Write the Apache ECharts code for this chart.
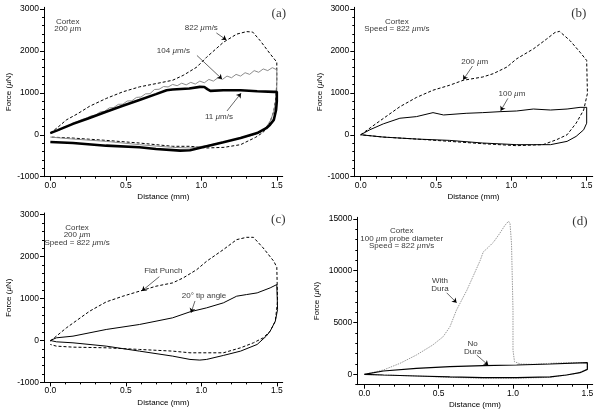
<!DOCTYPE html>
<html><head><meta charset="utf-8">
<script src="https://cdn.jsdelivr.net/npm/echarts@6/dist/echarts.min.js"></script>
<style>html,body{margin:0;padding:0;background:#fff}#c{width:600px;height:412px}</style>
</head><body><div id="c"></div>
<script>
// ---- tick values ----
const xMajor = [0, 0.5, 1.0, 1.5];
const xMinor = [0.1,0.2,0.3,0.4,0.6,0.7,0.8,0.9,1.1,1.2,1.3,1.4];
const yMajorABC = [-1000, 0, 1000, 2000, 3000];
const yMinorABC = [-800,-600,-400,-200,200,400,600,800,1200,1400,1600,1800,2200,2400,2600,2800];
const yMajorD = [0, 5000, 10000, 15000];
const yMinorD = [-1000,1000,2000,3000,4000,6000,7000,8000,9000,11000,12000,13000,14000];

// ---- panel (a): Cortex 200 um, speeds ----
const a822 = [[0,40],[0.05,180],[0.106,354],[0.18,500],[0.26,680],[0.37,866],[0.48,1024],[0.59,1142],[0.70,1220],[0.81,1300],[0.88,1417],[0.97,1614],[1.035,1850],[1.146,2205],[1.234,2400],[1.30,2460],[1.34,2450],[1.39,2244],[1.456,1929],[1.5,1732],[1.5,1300],[1.495,905],[1.48,560],[1.45,250],[1.41,60],[1.36,-60],[1.26,-236],[1.15,-300],[1.035,-315],[0.925,-275],[0.81,-275],[0.59,-197],[0.37,-134],[0.15,-79],[0,-55]];
const a104 = [[0,40],[0.03,95],[0.06,110],[0.09,185],[0.12,200],[0.15,285],[0.18,320],[0.21,365],[0.24,400],[0.27,450],[0.30,470],[0.33,545],[0.36,560],[0.39,640],[0.42,650],[0.45,725],[0.48,730],[0.51,805],[0.54,810],[0.57,890],[0.60,900],[0.63,975],[0.66,980],[0.69,1080],[0.72,1085],[0.75,1150],[0.78,1140],[0.81,1200],[0.84,1170],[0.87,1230],[0.90,1190],[0.93,1250],[0.96,1210],[0.99,1280],[1.02,1240],[1.05,1320],[1.08,1280],[1.11,1360],[1.14,1320],[1.17,1400],[1.20,1360],[1.23,1440],[1.26,1400],[1.29,1480],[1.32,1440],[1.35,1530],[1.38,1490],[1.41,1570],[1.44,1530],[1.47,1600],[1.50,1550],[1.5,1300],[1.5,1000],[1.495,826],[1.48,560],[1.46,354],[1.43,180],[1.39,60],[1.33,-20],[1.26,-79],[1.15,-170],[1.035,-260],[0.925,-315],[0.81,-300],[0.70,-270],[0.59,-236],[0.37,-157],[0.15,-102],[0,-55]];
const a11 = [[0,40],[0.05,110],[0.15,260],[0.25,390],[0.37,551],[0.48,690],[0.59,827],[0.70,969],[0.77,1063],[0.81,1079],[0.92,1102],[0.99,1142],[1.02,1140],[1.04,1090],[1.06,1047],[1.146,1063],[1.26,1063],[1.37,1039],[1.48,1024],[1.5,1024],[1.5,800],[1.495,590],[1.48,354],[1.455,240],[1.43,157],[1.37,40],[1.26,-79],[1.146,-181],[1.035,-276],[0.925,-370],[0.86,-378],[0.70,-339],[0.59,-299],[0.37,-260],[0.15,-197],[0,-173]];

// ---- panel (b): probe diameters ----
const b200 = [[0,0],[0.106,276],[0.26,669],[0.37,890],[0.48,1063],[0.59,1181],[0.68,1299],[0.81,1378],[0.88,1457],[0.97,1614],[1.035,1811],[1.146,2047],[1.234,2283],[1.29,2441],[1.32,2465],[1.39,2244],[1.456,1969],[1.5,1772],[1.505,984],[1.48,590],[1.43,276],[1.37,0],[1.30,-118],[1.21,-236],[1.035,-260],[0.81,-213],[0.59,-157],[0.37,-102],[0.15,-55],[0,0]];
const b100 = [[0,0],[0.06,118],[0.15,260],[0.26,394],[0.37,433],[0.48,528],[0.55,472],[0.70,512],[0.81,528],[0.925,551],[1.035,567],[1.146,614],[1.26,590],[1.37,614],[1.456,654],[1.5,654],[1.5,276],[1.48,118],[1.43,-39],[1.37,-157],[1.26,-236],[1.146,-236],[1.035,-236],[0.81,-197],[0.59,-134],[0.37,-102],[0.15,-55],[0,0]];

// ---- panel (c): tip shapes ----
const cFlat = [[0,-16],[0.106,300],[0.26,698],[0.37,920],[0.48,1055],[0.59,1175],[0.70,1294],[0.81,1373],[0.88,1492],[0.97,1690],[1.035,1889],[1.146,2167],[1.234,2405],[1.30,2460],[1.345,2460],[1.41,2206],[1.48,1889],[1.5,1746],[1.505,937],[1.49,460],[1.456,222],[1.41,63],[1.345,-56],[1.26,-175],[1.146,-294],[1.035,-294],[0.925,-294],[0.81,-254],[0.59,-214],[0.37,-175],[0.15,-159],[0.04,-135],[0,-95]];
const c20 = [[0,0],[0.04,63],[0.15,103],[0.37,262],[0.59,381],[0.70,460],[0.81,540],[0.925,683],[1.035,778],[1.146,897],[1.234,1056],[1.30,1095],[1.37,1135],[1.456,1254],[1.5,1333],[1.505,738],[1.49,460],[1.456,222],[1.43,103],[1.37,-95],[1.26,-254],[1.146,-357],[1.035,-452],[0.99,-468],[0.925,-452],[0.81,-373],[0.59,-254],[0.37,-135],[0.15,-56],[0.04,-32],[0,0]];

// ---- panel (d): dura ----
const dWith = [[0,0],[0.128,417],[0.24,1060],[0.35,1862],[0.46,2825],[0.53,3630],[0.576,4590],[0.62,6200],[0.69,8120],[0.73,9400],[0.78,11010],[0.80,11810],[0.825,12130],[0.87,12770],[0.91,13580],[0.946,14380],[0.97,14770],[0.98,14540],[0.99,12620],[1.0,6200],[1.0,2340],[1.01,1220],[1.05,995],[1.14,963],[1.25,1060],[1.36,1124],[1.5,1124],[1.5,481],[1.43,96],[1.25,-290],[1.025,-385],[0.80,-385],[0.576,-290],[0.35,-160],[0.128,-64],[0,0]];
const dNo = [[0,0],[0.128,320],[0.35,578],[0.576,738],[0.80,835],[1.025,900],[1.25,995],[1.5,1124],[1.5,481],[1.45,160],[1.36,-64],[1.25,-250],[1.025,-320],[0.80,-320],[0.576,-250],[0.35,-160],[0.128,-64],[0,0]];

// ---- annotations (text, anchor in data units) ----
const annA = [['Cortex\n200 {i|µ}m',0.115,2610],['822 {i|µ}m/s',1.0,2560],['104 {i|µ}m/s',0.815,2009],['11 {i|µ}m/s',1.117,433]];
const annB = [['Cortex\nSpeed = 822 {i|µ}m/s',0.24,2611],['200 {i|µ}m',0.757,1749],['100 {i|µ}m',1.004,985]];
const annC = [['Cortex\n200 {i|µ}m\nSpeed = 822 {i|µ}m/s',0.177,2509],['Flat Punch',0.748,1650],['20° tip angle',1.018,1061]];
const annD = [['Cortex\n100 {i|µ}m probe diameter\nSpeed = 822 {i|µ}m/s',0.2515,13118],['With\nDura',0.509,8614],['No\nDura',0.729,2566]];
const arrA = [[1.10,2428,1.166,2262],[0.971,1891,1.137,1330],[1.17,567,1.263,990]];
const arrB = [[0.742,1638,0.68,1310],[0.977,867,0.929,570]];
const arrC = [[0.722,1522,0.606,1180],[0.958,942,0.932,663]];
const arrD = [[0.554,7867,0.621,6904],[0.756,1862,0.834,880]];
const panelTags = [['(a)',1.513,2898],['(b)',1.448,2898],['(c)',1.51,2874],['(d)',1.45,14690]];

const FONT = 'Liberation Sans';
const chart = echarts.init(document.getElementById('c'), null, {renderer:'canvas'});

const layout = [
  {grid:{left:44, top:7.3, width:238.7, height:169.4}, x:[-0.042,1.539], y:[-1000,3040], yMaj:yMajorABC, yMin:yMinorABC},
  {grid:{left:354.3, top:7.3, width:238.4, height:169.4}, x:[-0.0425,1.54], y:[-1000,3040], yMaj:yMajorABC, yMin:yMinorABC},
  {grid:{left:44, top:213, width:238.7, height:169.4}, x:[-0.042,1.539], y:[-1000,3040], yMaj:yMajorABC, yMin:yMinorABC},
  {grid:{left:357.3, top:217.3, width:235.4, height:167.4}, x:[-0.047,1.536], y:[-1000,15150], yMaj:yMajorD, yMin:yMinorD}
];

const grids=[], xAxes=[], yAxes=[], series=[];
const tickStyle = {color:'#000', width:1};
layout.forEach((L,i)=>{
  grids.push(Object.assign({containLabel:false}, L.grid));
  xAxes.push({gridIndex:i, type:'value', min:L.x[0], max:L.x[1], position:'bottom',
    axisLine:{show:true, onZero:false, lineStyle:{color:'#000', width:1}},
    axisTick:{show:true, length:4, customValues:xMajor, lineStyle:tickStyle},
    axisLabel:{show:true, customValues:xMajor, formatter:v=>v.toFixed(1), fontSize:8.5, fontFamily:FONT, color:'#000', margin:4},
    splitLine:{show:false},
    name:'Distance (mm)', nameLocation:'middle', nameGap:16, nameTextStyle:{fontSize:8, fontFamily:FONT, color:'#000'}});
  xAxes.push({gridIndex:i, type:'value', min:L.x[0], max:L.x[1], position:'bottom',
    axisLine:{show:false, onZero:false}, axisTick:{show:true, length:2, customValues:xMinor, lineStyle:tickStyle},
    axisLabel:{show:false}, splitLine:{show:false}});
  yAxes.push({gridIndex:i, type:'value', min:L.y[0], max:L.y[1], position:'left',
    axisLine:{show:true, onZero:false, lineStyle:{color:'#000', width:1}},
    axisTick:{show:true, length:4, customValues:L.yMaj, lineStyle:tickStyle},
    axisLabel:{show:true, customValues:L.yMaj, formatter:v=>String(Math.round(v)), fontSize:8.5, fontFamily:FONT, color:'#000', margin:5},
    splitLine:{show:false},
    name:'Force ({i|µ}N)', nameLocation:'middle', nameGap: i===3?37:31,
    nameTextStyle:{fontSize:8, fontFamily:FONT, color:'#000', rich:{i:{fontStyle:'italic', fontSize:8, fontFamily:FONT, color:'#000'}}}});
  yAxes.push({gridIndex:i, type:'value', min:L.y[0], max:L.y[1], position:'left',
    axisLine:{show:false, onZero:false}, axisTick:{show:true, length:2, customValues:L.yMin, lineStyle:tickStyle},
    axisLabel:{show:false}, splitLine:{show:false}});
});

function line(i, data, style, z){
  series.push({type:'line', xAxisIndex:2*i, yAxisIndex:2*i, data:data, showSymbol:false, symbol:'none',
    lineStyle:style, z:z||2, animation:false, silent:true});
}
const dashed = {color:'#000', width:1, type:[3,2]};
line(0, a822, dashed, 2);
line(0, a104, {color:'#8c8c8c', width:1}, 3);
line(0, a11, {color:'#000', width:2.6}, 4);
line(1, b200, dashed);
line(1, b100, {color:'#000', width:1});
line(2, cFlat, dashed);
line(2, c20, {color:'#000', width:1});
line(3, dWith, {color:'#9a9a9a', width:1, type:[1.5,1]});
line(3, dNo, {color:'#000', width:1.2}, 3);

const rich = {i:{fontStyle:'italic', fontSize:8, fontFamily:FONT, color:'#000'}};
[annA,annB,annC,annD].forEach((ann,i)=>{
  const arr = [arrA,arrB,arrC,arrD][i];
  const tag = panelTags[i];
  const data = ann.map(a=>({name:a[0], value:[a[1],a[2]]}));
  series.push({type:'scatter', xAxisIndex:2*i, yAxisIndex:2*i, symbolSize:1, itemStyle:{color:'rgba(0,0,0,0)'},
    data:data, silent:true, animation:false, z:10,
    label:{show:true, position:'inside', formatter:p=>p.name, fontSize:8, fontFamily:FONT, color:'#000', lineHeight:7.6, align:'center', verticalAlign:'middle', rich:rich},
    markLine:{silent:true, animation:false, symbol:['none','arrow'], symbolSize:4.5, precision:4,
      lineStyle:{color:'#000', width:0.6, type:'solid'}, label:{show:false}, emphasis:{disabled:true},
      data: arr.map(r=>[{coord:[r[0],r[1]]},{coord:[r[2],r[3]]}])}});
  series.push({type:'scatter', xAxisIndex:2*i, yAxisIndex:2*i, symbolSize:1, itemStyle:{color:'rgba(0,0,0,0)'},
    data:[{name:tag[0], value:[tag[1],tag[2]]}], silent:true, animation:false, z:10,
    label:{show:true, position:'inside', formatter:p=>p.name, fontSize:13, fontFamily:'Liberation Serif', color:'#000', align:'center', verticalAlign:'middle'}});
});

chart.setOption({animation:false, backgroundColor:'#fff', grid:grids, xAxis:xAxes, yAxis:yAxes, series:series});
</script></body></html>
